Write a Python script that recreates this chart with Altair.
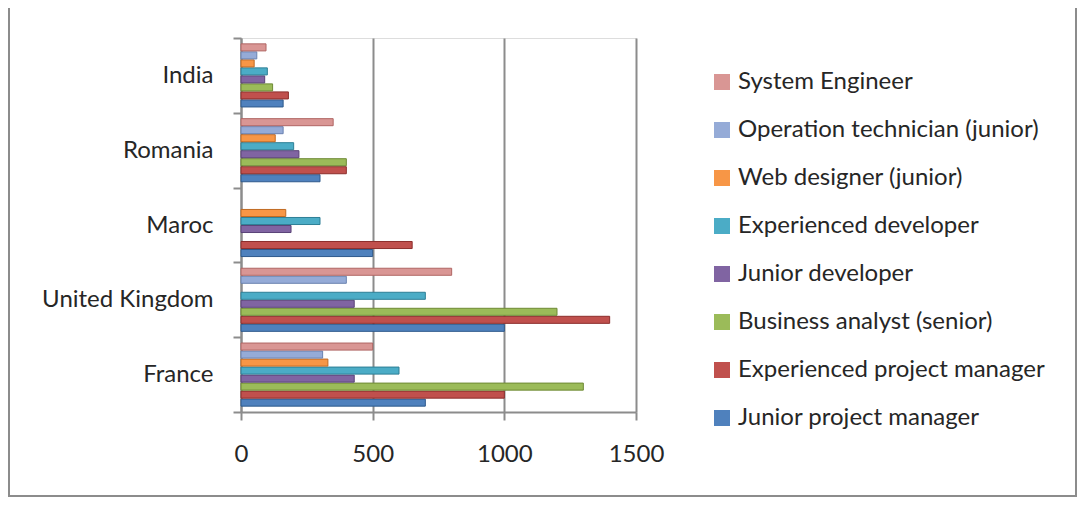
import altair as alt
import pandas as pd

countries = ["France", "United Kingdom", "Maroc", "Romania", "India"]
roles = [
    "Junior project manager",
    "Experienced project manager",
    "Business analyst (senior)",
    "Junior developer",
    "Experienced developer",
    "Web designer (junior)",
    "Operation technician (junior)",
    "System Engineer",
]
# values per role, in the order of `countries`
junior_pm = [700, 1000, 500, 300, 160]
experienced_pm = [1000, 1400, 650, 400, 180]
business_analyst = [1300, 1200, 0, 400, 120]
junior_dev = [430, 430, 190, 220, 90]
experienced_dev = [600, 700, 300, 200, 100]
web_designer = [330, 0, 170, 130, 50]
operation_tech = [310, 400, 0, 160, 60]
system_engineer = [500, 800, 0, 350, 95]

series = [junior_pm, experienced_pm, business_analyst, junior_dev,
          experienced_dev, web_designer, operation_tech, system_engineer]
fills = ["#4F81BD", "#C0504D", "#9BBB59", "#8064A2", "#4BACC6", "#F79646", "#95ABD7", "#D99694"]
strokes = ["#2F5A8C", "#8C2E2C", "#6E8A35", "#5A4377", "#2D7F96", "#C06A22", "#6A82B0", "#B06664"]

rows = []
for role, vals in zip(roles, series):
    for c, v in zip(countries, vals):
        if v > 0:
            rows.append({"country": c, "role": role, "value": v})
df = pd.DataFrame(rows)

countries_top = countries[::-1]
roles_top = roles[::-1]
fills_top = fills[::-1]
strokes_top = strokes[::-1]

font = "Lato"
grey = "#8C8C8C"
txt = "#262626"

bars = alt.Chart(df).mark_bar(strokeWidth=1).encode(
    y=alt.Y("country:N", sort=countries_top, title=None,
            scale=alt.Scale(paddingInner=0, paddingOuter=0),
            axis=alt.Axis(tickBand="extent", tickSize=8, labelPadding=20,
                          domainColor=grey, domainWidth=2, tickColor=grey, tickWidth=2,
                          labelFontSize=24, labelColor=txt, labelFont=font)),
    yOffset=alt.YOffset("role:N", sort=roles_top,
                        scale=alt.Scale(paddingInner=0.12, paddingOuter=0.73)),
    x=alt.X("value:Q", title=None, scale=alt.Scale(domain=[0, 1500]),
            axis=alt.Axis(values=[0, 500, 1000, 1500], format="d", labelFlush=False,
                          grid=True, gridColor=grey, gridWidth=2,
                          domainColor=grey, domainWidth=2, tickColor=grey, tickWidth=2,
                          tickSize=8, labelPadding=22, labelFontSize=24,
                          labelColor=txt, labelFont=font)),
    color=alt.Color("role:N", sort=roles_top,
                    scale=alt.Scale(domain=roles_top, range=fills_top),
                    legend=alt.Legend(title=None, orient="none", legendX=469, legendY=32,
                                      symbolType="square", symbolSize=256,
                                      symbolStrokeWidth=0, labelFontSize=24,
                                      labelFont=font, labelColor=txt, labelLimit=0,
                                      labelOffset=4, rowPadding=24, padding=0)),
    stroke=alt.Stroke("role:N", scale=alt.Scale(domain=roles_top, range=strokes_top), legend=None),
)

border = alt.Chart(pd.DataFrame({"a": [0]})).mark_rect(
    fill="transparent", stroke="#8C8C8C", strokeWidth=2
).encode(
    x=alt.value(-232), x2=alt.value(835), y=alt.value(-60), y2=alt.value(458)
)

chart = alt.layer(border, bars).properties(
    width=395, height=374,
    padding={"left": 233, "top": 30, "right": 442, "bottom": 86},
    autosize=alt.AutoSizeParams(type="none"),
).configure_view(stroke=None).configure(font=font)

chart.save("out.html", embed_options={"renderer": "svg", "actions": False})
